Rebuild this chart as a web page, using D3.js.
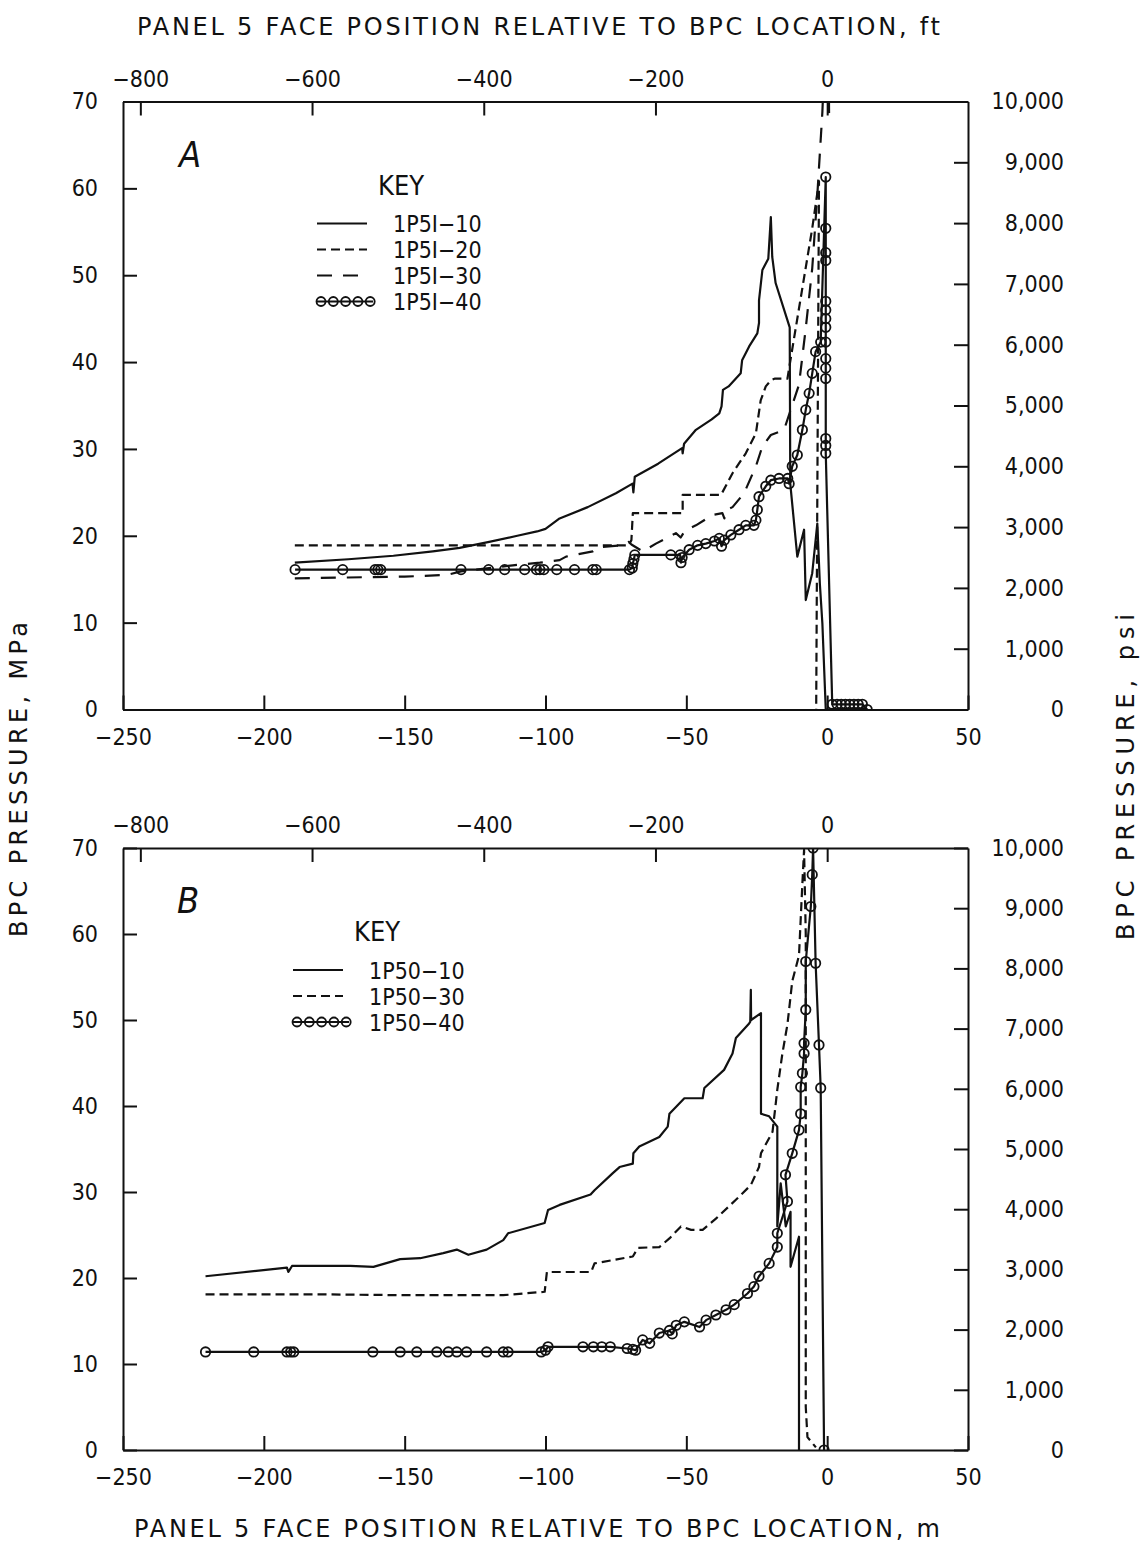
<!DOCTYPE html>
<html>
<head>
<meta charset="utf-8">
<script src="https://cdn.jsdelivr.net/npm/d3@7"></script>
<style>
  body { margin: 0; background: #fff; }
  svg text { font-family: "DejaVu Sans Condensed", "DejaVu Sans", sans-serif; font-stretch: condensed; fill: #111; }
  svg text.title { font-family: "DejaVu Sans", sans-serif; font-stretch: normal; }
  .axis path, .axis line { stroke: #111; stroke-width: 2; }
  .axis text { font-size: 23px; }
</style>
</head>
<body>
<div id="chart"></div>
<script>
// Tick labels

var xTicksM = [-250, -200, -150, -100, -50, 0, 50];
var xTicksFt = [-800, -600, -400, -200, 0];
var yTicksMPa = [0, 10, 20, 30, 40, 50, 60, 70];
var yTicksPsi = [0, 1000, 2000, 3000, 4000, 5000, 6000, 7000, 8000, 9000, 10000];

// Panel A series: [position m, pressure MPa]

var namesA = ["1P5I\u221210", "1P5I\u221220", "1P5I\u221230", "1P5I\u221240"];

var p5i10 = [[-189,16.9],[-170,17.3],[-154,17.7],[-140,18.2],[-130.5,18.6],[-120,19.3],[-110,20.0],[-103,20.5],
  [-100,20.8],[-95,22.0],[-85,23.3],[-75,24.9],[-69.1,26.0],[-68.8,25.0],[-68.3,26.8],[-60,28.3],[-51.5,30.1],
  [-51.3,29.5],[-50.8,30.6],[-46.6,32.2],[-41,33.4],[-38.3,34.1],[-37.5,34.9],[-37,36.8],[-35,37.2],[-30.7,38.7],
  [-30.2,40.2],[-27.7,41.8],[-24.8,43.3],[-24.2,44.5],[-24.2,47.1],[-23.0,50.6],[-20.9,51.9],[-20.0,56.7],
  [-19.5,52.1],[-18.3,49.1],[-13.3,44.0],[-13.1,26.0],[-10.6,17.6],[-8.2,20.7],[-7.6,12.6],[-5.3,15.7],
  [-3.5,21.4],[-2.6,14.5],[-1.7,9.9],[-0.5,0],[2,0]];

var p5i20 = [[-189,18.9],[-150,18.9],[-120,18.9],[-70.5,18.9],[-69.5,19.5],[-69,22.6],[-51.3,22.6],[-51.3,24.7],
  [-37.7,24.7],[-33.6,27.2],[-28.9,29.5],[-25.3,31.8],[-23.6,35.6],[-21.8,37.2],[-20.0,37.9],[-18.5,38.1],
  [-14.1,38.1],[-12.9,40.5],[-5.3,55.4],[-2.9,60.8],[-3.9,0]];

var p5i30 = [[-189,15.1],[-170,15.2],[-150,15.3],[-135,15.5],[-130,15.9],[-111.6,16.6],[-102,16.9],[-95,17.2],
  [-92.7,17.6],[-83.2,18.2],[-80.9,18.7],[-72.6,18.9],[-70.5,19.3],[-69.5,19.0],[-65.5,18.2],[-60.8,19.1],
  [-53.7,20.3],[-52,19.8],[-50.5,20.6],[-46.6,21.2],[-40.7,22.4],[-37.2,22.6],[-36.5,22.0],[-35.5,23.0],
  [-33.6,23.3],[-29.5,24.9],[-25.3,28.0],[-23.0,30.3],[-20.0,31.6],[-15.3,32.2],[-10.0,37.4],[-7.6,43.9],
  [-5.3,50.8],[-3.5,59.2],[-1.7,68.8],[-1.3,72],[0.6,72],[0.7,67.5]];

var p5i40 = [[-188.9,16.1],[-172,16.1],[-160.5,16.1],[-159.5,16.1],[-158.5,16.1],[-130,16.1],[-120.2,16.1],
  [-114.5,16.1],[-107.4,16.1],[-103.2,16.1],[-102,16.1],[-100.6,16.1],[-96,16.1],[-89.7,16.1],[-83.2,16.1],
  [-82,16.1],[-70.2,16.1],[-69.2,16.3],[-69,16.8],[-68.6,17.3],[-68.3,17.8],[-55.5,17.8],[-52.2,17.8],
  [-51.9,16.9],[-51.5,17.5],[-49,18.4],[-46,18.9],[-43.1,19.1],[-40,19.4],[-38.3,19.7],[-37.5,18.8],
  [-36.5,19.5],[-34.2,20.1],[-31.3,20.7],[-28.9,21.2],[-26,21.2],[-25.3,21.8],[-24.8,23.0],[-24.2,24.5],
  [-21.8,25.7],[-20.0,26.4],[-17.1,26.6],[-14,26.6],[-13.5,26.0],[-12.4,28.0],[-10.6,29.3],[-8.8,32.2],
  [-7.6,34.5],[-6.4,36.4],[-5.3,38.7],[-4.1,41.2],[-2.3,42.3],[-0.5,61.3],[-0.5,55.4],[-0.5,52.6],
  [-0.5,51.7],[-0.5,47.0],[-0.5,46.0],[-0.5,45.0],[-0.5,44.0],[-0.5,42.3],[-0.5,40.4],[-0.5,39.3],
  [-0.5,38.1],[-0.5,31.2],[-0.5,30.4],[-0.5,29.5],[1.8,0.6],[3.5,0.6],[5,0.6],[6.5,0.6],[8,0.6],
  [9.5,0.6],[11,0.6],[12.5,0.6],[14.2,0]];

// Panel B series

var namesB = ["1P50\u221210", "1P50\u221230", "1P50\u221240"];

var p5o10 = [[-220.7,20.2],[-191.8,21.2],[-191.3,20.7],[-190,21.4],[-169.3,21.4],[-161.1,21.3],[-151.6,22.2],
  [-144.5,22.3],[-136.3,22.9],[-131.5,23.3],[-127.4,22.7],[-120.9,23.3],[-115,24.4],[-113.3,25.2],[-100.3,26.4],
  [-99.1,27.9],[-95,28.5],[-84,29.7],[-82.6,30.2],[-76.1,32.2],[-73.7,32.9],[-69.0,33.3],[-68.8,34.5],
  [-66.7,35.3],[-59.6,36.4],[-56.6,37.6],[-56.0,39.1],[-50.7,40.9],[-44.2,40.9],[-43.6,42.1],[-36.6,44.2],
  [-33.6,46.1],[-32.4,47.9],[-27.7,49.6],[-27.3,49.8],[-27.1,53.5],[-27.0,50.0],[-23.5,50.8],[-23.5,39.1],
  [-20.6,38.8],[-17.7,37.6],[-17.7,26.0],[-16.5,31.0],[-14.7,26.0],[-13.0,27.7],[-13.0,21.3],[-10.0,24.8],
  [-10.0,0]];

var p5o30 = [[-220.7,18.1],[-180,18.1],[-150,18.0],[-115,18.0],[-100.3,18.4],[-99.5,20.7],[-95,20.7],
  [-83.8,20.7],[-82.6,21.7],[-69.0,22.5],[-67.2,23.5],[-59.6,23.6],[-56.0,24.6],[-51.9,26.0],[-48.3,25.6],
  [-44.2,25.6],[-39.5,26.9],[-32.4,29.1],[-27.1,30.8],[-24.2,32.9],[-23.5,34.5],[-19.4,37.0],[-17.7,41.9],
  [-15.9,46.1],[-14.1,49.5],[-12.4,54.5],[-10.0,57.5],[-8.8,65.9],[-8.2,69.8],[-7.6,60],[-7.6,5],
  [-7.0,1.5],[-4.0,0.3]];

var p5o40 = [[-220.7,11.4],[-203.6,11.4],[-191.8,11.4],[-190.5,11.4],[-189.4,11.4],[-161.3,11.4],[-151.6,11.4],
  [-145.7,11.4],[-138.6,11.4],[-134.5,11.4],[-131.5,11.4],[-128,11.4],[-120.9,11.4],[-115,11.4],[-113.3,11.4],
  [-101.5,11.4],[-100,11.6],[-99.1,12.0],[-86.7,12.0],[-83,12.0],[-80,12.0],[-77,12.0],[-71,11.8],[-69,11.7],
  [-68,11.6],[-65.5,12.8],[-63,12.4],[-59.6,13.6],[-56,13.9],[-55,13.5],[-53.6,14.5],[-50.7,14.9],[-45.3,14.3],
  [-43,15.1],[-39.5,15.7],[-35.9,16.3],[-33,16.9],[-28.3,18.2],[-26,19],[-24.2,20.2],[-20.6,21.7],[-17.7,23.6],
  [-17.7,25.2],[-14.1,28.9],[-14.8,32.0],[-12.4,34.5],[-10,37.2],[-9.4,39.1],[-9.4,42.2],[-8.8,43.8],
  [-8.2,46.1],[-8.2,47.3],[-7.6,51.2],[-7.6,56.8],[-5.8,63.2],[-5.3,66.9],[-5.0,70.0],[-4.1,56.6],
  [-2.9,47.1],[-2.3,42.1],[-1.1,0]];

// Generate svg

var width = 1141;
var height = 1560;

var svg = d3.select("#chart")
  .append("svg")
  .attr("width", width)
  .attr("height", height);

// Shared x scales (m on bottom, ft on top)

var mX = d3.scaleLinear().domain([-250, 50]).range([123, 968]);
var ftX = d3.scaleLinear().domain([-250 * 3.2808, 50 * 3.2808]).range([123, 968]);

var dashes = {solid: null, short: "9,5", long: "15,11", circle: null};

function drawPanel(p) {
  var y = d3.scaleLinear().domain([0, 70]).range([p.bottom, p.top]);
  var yPsi = d3.scaleLinear().domain([0, 10000]).range([p.bottom, p.top]);

  svg.append("clipPath")
    .attr("id", "clip" + p.id)
    .append("rect")
    .attr("x", 123)
    .attr("y", p.top)
    .attr("width", 968 - 123)
    .attr("height", p.bottom - p.top);

  // Draw Axes

  svg.append("g")
    .attr("class", "axis")
    .attr("transform", `translate(0, ${p.bottom})`)
    .call(d3.axisBottom(mX).tickValues(xTicksM).tickSizeInner(-14).tickSizeOuter(0).tickPadding(19));

  svg.append("g")
    .attr("class", "axis")
    .attr("transform", `translate(0, ${p.top})`)
    .call(d3.axisTop(ftX).tickValues(xTicksFt).tickSizeInner(-14).tickSizeOuter(0).tickPadding(15));

  svg.append("g")
    .attr("class", "axis")
    .attr("transform", "translate(123, 0)")
    .call(d3.axisLeft(y).tickValues(yTicksMPa).tickSizeInner(-14).tickSizeOuter(0).tickPadding(25));

  svg.append("g")
    .attr("class", "axis")
    .attr("transform", "translate(968, 0)")
    .call(d3.axisRight(yPsi).tickValues(yTicksPsi).tickFormat(d3.format(",")).tickSizeInner(-14).tickSizeOuter(0))
    .selectAll("text")
      .attr("text-anchor", "end")
      .attr("x", 96);

  // Draw data

  var line = d3.line().x(d => mX(d[0])).y(d => y(d[1]));

  p.series.forEach(function(s) {
    svg.append("path")
      .datum(s.values)
      .attr("clip-path", `url(#clip${p.id})`)
      .attr("fill", "none")
      .attr("stroke", "#111")
      .attr("stroke-width", 2.2)
      .attr("stroke-linejoin", "round")
      .attr("stroke-dasharray", dashes[s.style])
      .attr("d", line);

    if (s.style == "circle") {
      svg.append("g")
        .attr("clip-path", `url(#clip${p.id})`)
        .selectAll("circle")
        .data(s.values)
        .enter().append("circle")
        .attr("cx", d => mX(d[0]))
        .attr("cy", d => y(d[1]))
        .attr("r", 4.7)
        .attr("fill", "none")
        .attr("stroke", "#111")
        .attr("stroke-width", 1.8);
    }
  });

  // Panel letter and key

  svg.append("text")
    .attr("x", p.letterX)
    .attr("y", p.letterY)
    .attr("font-size", 36)
    .attr("font-style", "italic")
    .text(p.letter);

  svg.append("text")
    .attr("x", p.keyX + 61)
    .attr("y", p.keyY - 29)
    .attr("font-size", 27)
    .text("KEY");

  p.series.forEach(function(s, i) {
    var ly = p.keyY + i * 26;
    svg.append("line")
      .attr("x1", p.keyX)
      .attr("x2", p.keyX + (s.style == "circle" ? 56 : 50))
      .attr("y1", ly)
      .attr("y2", ly)
      .attr("stroke", "#111")
      .attr("stroke-width", 2.2)
      .attr("stroke-dasharray", dashes[s.style]);
    if (s.style == "circle") {
      svg.selectAll(null)
        .data([0, 1, 2, 3, 4])
        .enter().append("circle")
        .attr("cx", k => p.keyX + 4 + k * 12.3)
        .attr("cy", ly)
        .attr("r", 4.5)
        .attr("fill", "none")
        .attr("stroke", "#111")
        .attr("stroke-width", 1.8);
    }
    svg.append("text")
      .attr("x", p.keyX + 76)
      .attr("y", ly + 8.5)
      .attr("font-size", 23)
      .text(s.name);
  });
}

drawPanel({
  id: "A", top: 101.5, bottom: 709.5, letter: "A", letterX: 179, letterY: 167,
  keyX: 317, keyY: 223.5,
  series: [
    {name: namesA[0], style: "solid", values: p5i10},
    {name: namesA[1], style: "short", values: p5i20},
    {name: namesA[2], style: "long", values: p5i30},
    {name: namesA[3], style: "circle", values: p5i40}
  ]
});

drawPanel({
  id: "B", top: 848, bottom: 1450, letter: "B", letterX: 177, letterY: 913,
  keyX: 293, keyY: 970,
  series: [
    {name: namesB[0], style: "solid", values: p5o10},
    {name: namesB[1], style: "short", values: p5o30},
    {name: namesB[2], style: "circle", values: p5o40}
  ]
});

// Draw Labels

svg.append("text")
  .attr("class", "title")
  .attr("x", 137)
  .attr("y", 35)
  .attr("font-size", 24)
  .attr("textLength", 803)
  .attr("lengthAdjust", "spacing")
  .text("PANEL 5 FACE POSITION RELATIVE TO BPC LOCATION, ft");

svg.append("text")
  .attr("class", "title")
  .attr("x", 134)
  .attr("y", 1537)
  .attr("font-size", 24)
  .attr("textLength", 806)
  .attr("lengthAdjust", "spacing")
  .text("PANEL 5 FACE POSITION RELATIVE TO BPC LOCATION, m");

svg.append("text")
  .attr("class", "title")
  .attr("transform", "translate(27, 937) rotate(-90)")
  .attr("font-size", 24)
  .attr("textLength", 315)
  .attr("lengthAdjust", "spacing")
  .text("BPC PRESSURE, MPa");

svg.append("text")
  .attr("class", "title")
  .attr("transform", "translate(1134, 940) rotate(-90)")
  .attr("font-size", 24)
  .attr("textLength", 326)
  .attr("lengthAdjust", "spacing")
  .text("BPC PRESSURE, psi");
</script>
</body>
</html>
